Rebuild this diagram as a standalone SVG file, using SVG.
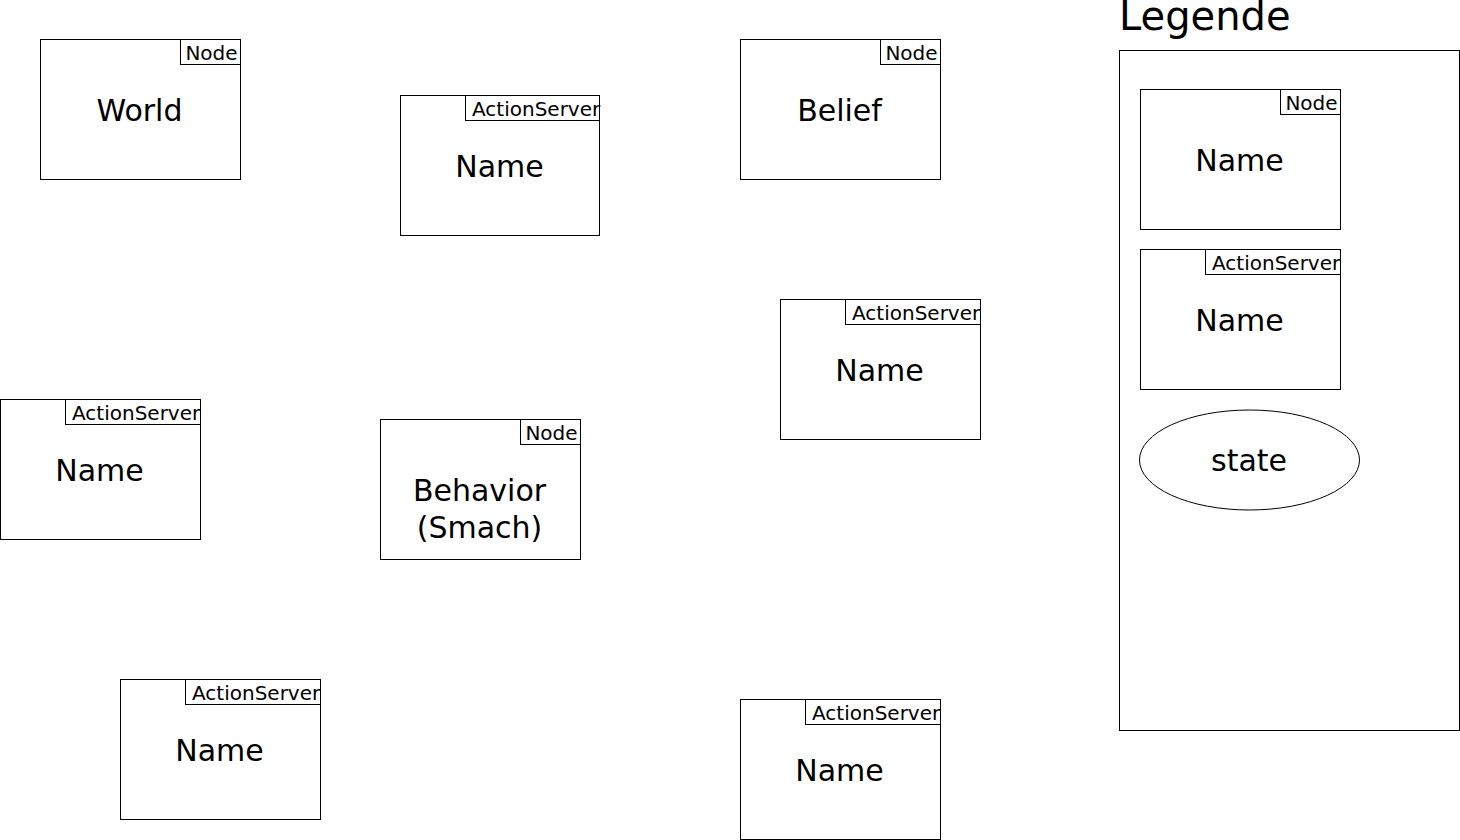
<svg xmlns="http://www.w3.org/2000/svg" width="1460" height="840" viewBox="0 0 1460 840">
<style>
rect, ellipse { fill: #ffffff; stroke: #000000; stroke-width: 1; }
text { font-family: "DejaVu Sans", "Liberation Sans", sans-serif; fill: #000000; }
.main { font-size: 30px; text-anchor: middle; }
.tag { font-size: 20px; }
.tagm { font-size: 20px; text-anchor: middle; }
.title { font-size: 40px; }
</style>
<rect x="0" y="0" width="1460" height="840" style="stroke:none;fill:#ffffff"/>
<g id="connectors"></g>
<g id="world">
<rect x="40.5" y="39.5" width="200" height="140"/>
<rect x="180.5" y="39.5" width="60" height="25"/>
<text class="tagm" x="211.5" y="59.5">Node</text>
<text class="main" x="139.5" y="120.5">World</text>
</g>
<g id="as1">
<rect x="400.5" y="95.5" width="199" height="140"/>
<rect x="465.5" y="95.5" width="134" height="25"/>
<text class="tag" x="472" y="115.5">ActionServer</text>
<text class="main" x="499.5" y="176.5">Name</text>
</g>
<g id="belief">
<rect x="740.5" y="39.5" width="200" height="140"/>
<rect x="880.5" y="39.5" width="60" height="25"/>
<text class="tagm" x="911.5" y="59.5">Node</text>
<text class="main" x="839.5" y="120.5">Belief</text>
</g>
<g id="as2">
<rect x="780.5" y="299.5" width="200" height="140"/>
<rect x="845.5" y="299.5" width="135" height="25"/>
<text class="tag" x="852" y="319.5">ActionServer</text>
<text class="main" x="879.5" y="380.5">Name</text>
</g>
<g id="as3">
<rect x="0.5" y="399.5" width="200" height="140"/>
<rect x="65.5" y="399.5" width="135" height="25"/>
<text class="tag" x="72" y="419.5">ActionServer</text>
<text class="main" x="99.5" y="480.5">Name</text>
</g>
<g id="behavior">
<rect x="380.5" y="419.5" width="200" height="140"/>
<rect x="520.5" y="419.5" width="60" height="25"/>
<text class="tagm" x="551.5" y="439.5">Node</text>
<text class="main" x="479.5" y="500.5">Behavior</text>
<text class="main" x="479.5" y="537.5">(Smach)</text>
</g>
<g id="as4">
<rect x="120.5" y="679.5" width="200" height="140"/>
<rect x="185.5" y="679.5" width="135" height="25"/>
<text class="tag" x="192" y="699.5">ActionServer</text>
<text class="main" x="219.5" y="760.5">Name</text>
</g>
<g id="as5">
<rect x="740.5" y="699.5" width="200" height="140"/>
<rect x="805.5" y="699.5" width="135" height="25"/>
<text class="tag" x="812" y="719.5">ActionServer</text>
<text class="main" x="839.5" y="780.5">Name</text>
</g>
<g id="legend">
<text class="title" x="1119" y="30">Legende</text>
<rect x="1119.5" y="50.5" width="340" height="680"/>
<g id="legend-node">
<rect x="1140.5" y="89.5" width="200" height="140"/>
<rect x="1280.5" y="89.5" width="60" height="25"/>
<text class="tagm" x="1311.5" y="109.5">Node</text>
<text class="main" x="1239.5" y="170.5">Name</text>
</g>
<g id="legend-as">
<rect x="1140.5" y="249.5" width="200" height="140"/>
<rect x="1205.5" y="249.5" width="135" height="25"/>
<text class="tag" x="1212" y="269.5">ActionServer</text>
<text class="main" x="1239.5" y="330.5">Name</text>
</g>
<g id="legend-state">
<ellipse cx="1249.5" cy="460" rx="110" ry="50"/>
<text class="main" x="1249" y="470.5">state</text>
</g>
</g>
</svg>
